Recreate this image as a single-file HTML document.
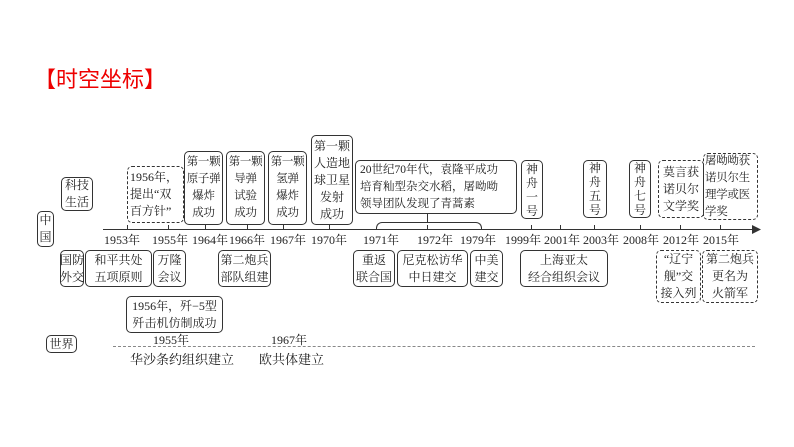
<!DOCTYPE html>
<html><head><meta charset="utf-8"><style>
body{margin:0;width:794px;height:447px;background:#fff;position:relative;overflow:hidden;font-family:"Liberation Serif","Noto Serif CJK SC",serif;color:#222}
.b{position:absolute;border:1.3px solid #333;border-radius:5px;box-sizing:border-box;text-align:center;font-size:12px;line-height:17px;display:flex;align-items:center;justify-content:center;white-space:nowrap}
.d{border-style:dashed}
.y{position:absolute;top:231px;font-size:12px;white-space:nowrap}
.t{position:absolute;white-space:nowrap;font-size:13px}
.tk{position:absolute;top:225px;width:1px;height:4px;background:#333}
.n{font-size:11.5px;letter-spacing:-0.3px}
</style></head><body>
<div class="t" style="left:34px;top:62px;font-size:22px;color:#e00;font-family:'Liberation Sans','Noto Sans CJK SC',sans-serif">【时空坐标】</div>

<div style="position:absolute;left:103px;top:229px;width:652px;height:1.3px;background:#333"></div>
<svg style="position:absolute;left:752px;top:225px" width="10" height="9"><path d="M0 0 L9 4.5 L0 9 Z" fill="#333"/></svg>

<div class="tk" style="left:127px"></div><div class="tk" style="left:168px"></div><div class="tk" style="left:205px"></div><div class="tk" style="left:247px"></div><div class="tk" style="left:283px"></div><div class="tk" style="left:329px"></div><div class="tk" style="left:427px"></div><div class="tk" style="left:531px"></div><div class="tk" style="left:560px"></div><div class="tk" style="left:594px"></div><div class="tk" style="left:640px"></div><div class="tk" style="left:680px"></div><div class="tk" style="left:720px"></div>

<div class="y" style="left:104px">1953年</div>
<div class="y" style="left:152px">1955年</div>
<div class="y" style="left:192px">1964年</div>
<div class="y" style="left:229px">1966年</div>
<div class="y" style="left:270px">1967年</div>
<div class="y" style="left:311px">1970年</div>
<div class="y" style="left:363px">1971年</div>
<div class="y" style="left:417px">1972年</div>
<div class="y" style="left:460px">1979年</div>
<div class="y" style="left:505px">1999年</div>
<div class="y" style="left:544px">2001年</div>
<div class="y" style="left:583px">2003年</div>
<div class="y" style="left:623px">2008年</div>
<div class="y" style="left:663px">2012年</div>
<div class="y" style="left:703px">2015年</div>

<div class="b" style="left:37px;top:211px;width:17px;height:36px">中<br>国</div>
<div class="b" style="left:61px;top:177px;width:32px;height:34px">科技<br>生活</div>
<div class="b d" style="left:127px;top:166px;width:57px;height:57px;text-align:left;justify-content:flex-start;padding-left:2px">1956年，<br>提出“双<br>百方针”</div>
<div class="b n" style="left:184px;top:151px;width:39px;height:74px">第一颗<br>原子弹<br>爆炸<br>成功</div>
<div class="b n" style="left:226px;top:151px;width:39px;height:74px">第一颗<br>导弹<br>试验<br>成功</div>
<div class="b n" style="left:268px;top:151px;width:39px;height:74px">第一颗<br>氢弹<br>爆炸<br>成功</div>
<div class="b" style="left:311px;top:135px;width:42px;height:90px">第一颗<br>人造地<br>球卫星<br>发射<br>成功</div>
<div class="b" style="left:355px;top:160px;width:162px;height:54px;text-align:left;justify-content:flex-start;padding-left:4px;font-size:11.5px">20世纪70年代，袁隆平成功<br>培育籼型杂交水稻，屠呦呦<br>领导团队发现了青蒿素</div>
<div style="position:absolute;left:376px;top:222px;width:106px;height:8px;border:1.3px solid #333;border-bottom:none;border-radius:6px 6px 0 0;box-sizing:border-box"></div>
<div style="position:absolute;left:427px;top:213px;width:1.3px;height:9px;background:#333"></div>
<div class="b" style="left:521px;top:160px;width:22px;height:59px;line-height:14px">神<br>舟<br>一<br>号</div>
<div class="b" style="left:583px;top:160px;width:24px;height:58px;line-height:14px">神<br>舟<br>五<br>号</div>
<div class="b" style="left:629px;top:160px;width:22px;height:58px;line-height:14px">神<br>舟<br>七<br>号</div>
<div class="b d" style="left:658px;top:160px;width:46px;height:58px">莫言获<br>诺贝尔<br>文学奖</div>
<div class="b d n" style="left:703px;top:153px;width:55px;height:67px;text-align:left;justify-content:flex-start;padding-left:1px">屠呦呦获<br>诺贝尔生<br>理学或医<br>学奖</div>

<div class="b" style="left:60px;top:250px;width:24px;height:37px">国防<br>外交</div>
<div class="b" style="left:85px;top:250px;width:67px;height:37px">和平共处<br>五项原则</div>
<div class="b" style="left:153px;top:250px;width:33px;height:37px">万隆<br>会议</div>
<div class="b" style="left:218px;top:250px;width:53px;height:37px">第二炮兵<br>部队组建</div>
<div class="b" style="left:353px;top:250px;width:42px;height:37px">重返<br>联合国</div>
<div class="b" style="left:397px;top:250px;width:71px;height:37px">尼克松访华<br>中日建交</div>
<div class="b" style="left:470px;top:250px;width:33px;height:37px">中美<br>建交</div>
<div class="b" style="left:520px;top:250px;width:88px;height:37px">上海亚太<br>经合组织会议</div>
<div class="b d" style="left:656px;top:250px;width:45px;height:53px">“辽宁<br>舰”交<br>接入列</div>
<div class="b d" style="left:702px;top:250px;width:56px;height:53px">第二炮兵<br>更名为<br>火箭军</div>

<div class="b" style="left:126px;top:296px;width:97px;height:37px">1956年，歼−5型<br>歼击机仿制成功</div>
<div class="b" style="left:46px;top:335px;width:31px;height:18px;line-height:16px">世界</div>
<div class="t" style="left:153px;top:331px;font-size:12px">1955年</div>
<div class="t" style="left:271px;top:331px;font-size:12px">1967年</div>
<div style="position:absolute;left:113px;top:346px;width:642px;border-top:1.5px dashed #888"></div>
<div class="t" style="left:130px;top:349px">华沙条约组织建立</div>
<div class="t" style="left:259px;top:349px">欧共体建立</div>
</body></html>
